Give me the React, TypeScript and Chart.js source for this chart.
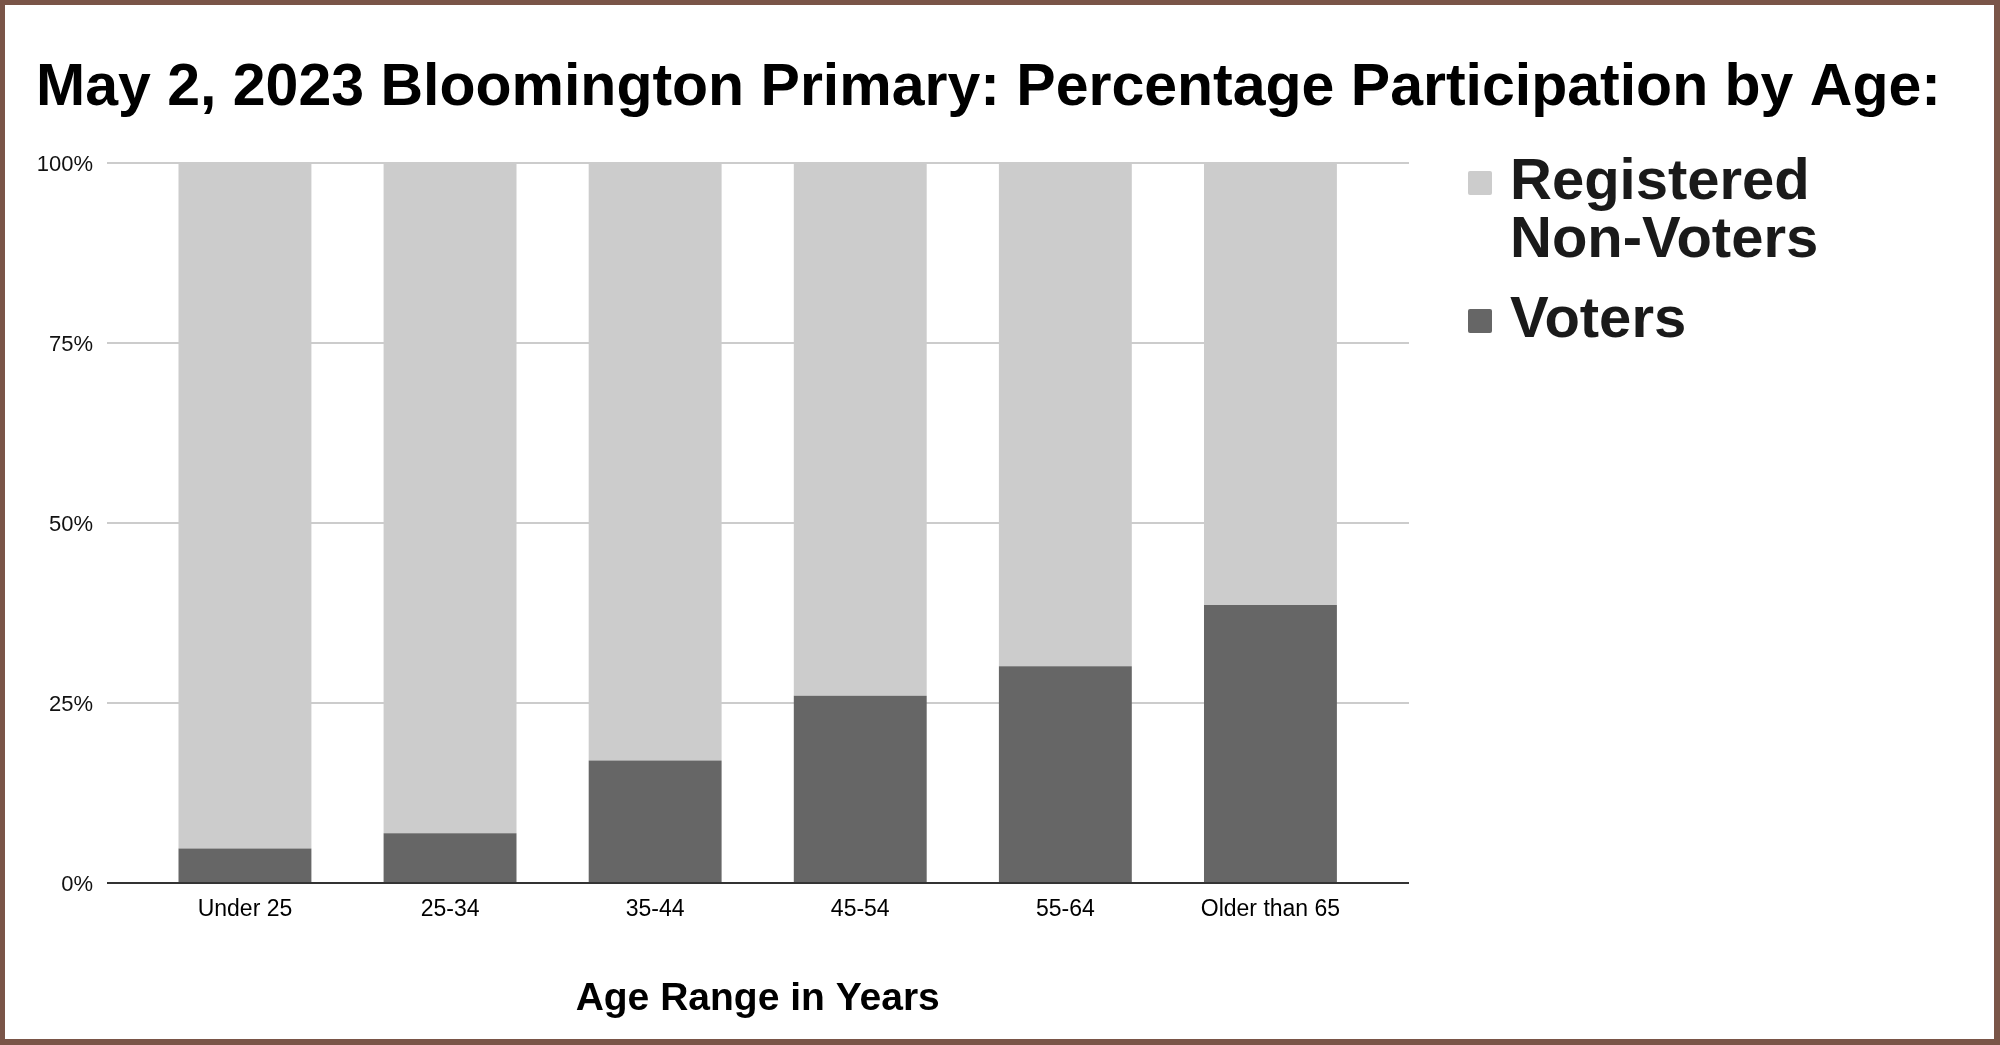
import React, { useEffect, useRef } from 'react';
import { Chart, registerables } from 'chart.js';

Chart.register(...registerables);

const categories = ['Under 25', '25-34', '35-44', '45-54', '55-64', 'Older than 65'];
const voters = [4.8, 6.9, 17.0, 26.0, 30.1, 38.6];
const nonVoters = [95.2, 93.1, 83.0, 74.0, 69.9, 61.4];
const yTickValues = [0, 25, 50, 75, 100];
const voterLabel = 'Voters';
const nonVoterLabel = ['Registered', 'Non-Voters'];
const titleText = 'May 2, 2023 Bloomington Primary: Percentage Participation by Age:';
const xTitleText = 'Age Range in Years';

const LIGHT = '#cccccc';
const DARK = '#666666';
const FONT = '"Liberation Sans", Arial, Helvetica, sans-serif';

function makeSwatch(color: string) {
  const c = document.createElement('canvas');
  c.width = 24;
  c.height = 24;
  const g = c.getContext('2d')!;
  g.fillStyle = color;
  g.beginPath();
  if ((g as any).roundRect) (g as any).roundRect(0, 0, 24, 24, 2);
  else g.rect(0, 0, 24, 24);
  g.fill();
  return c;
}

const extGrid = {
  id: 'extGrid',
  beforeDatasetsDraw(chart: any) {
    const { ctx, chartArea } = chart;
    const y = chart.scales.y;
    const left = chartArea.left - 35.4;
    const right = chartArea.right + 36;
    ctx.save();
    ctx.strokeStyle = '#cccccc';
    ctx.lineWidth = 2;
    y.ticks.forEach((t: any) => {
      if (t.value === 0) return;
      const py = Math.round(y.getPixelForValue(t.value));
      ctx.beginPath();
      ctx.moveTo(left, py);
      ctx.lineTo(right, py);
      ctx.stroke();
    });
    ctx.restore();
  },
  afterDatasetsDraw(chart: any) {
    const { ctx, chartArea } = chart;
    const y = chart.scales.y;
    const left = chartArea.left - 35.4;
    const right = chartArea.right + 36;
    const py = Math.round(y.getPixelForValue(0));
    ctx.save();
    ctx.strokeStyle = '#333333';
    ctx.lineWidth = 2;
    ctx.beginPath();
    ctx.moveTo(left, py);
    ctx.lineTo(right, py);
    ctx.stroke();
    ctx.restore();
  },
  afterDraw(chart: any) {
    const { ctx, width, height } = chart;
    ctx.save();
    ctx.fillStyle = '#7a5548';
    ctx.fillRect(0, 0, width, 5);
    ctx.fillRect(0, 0, 5, height);
    ctx.fillRect(width - 6, 0, 6, height);
    ctx.fillRect(0, height - 6, width, 6);
    ctx.restore();
  },
};

const LEGEND_LEFT = 1457;

export default function App() {
  const ref = useRef<HTMLCanvasElement>(null);

  useEffect(() => {
    document.body.style.margin = '0';
    const swatches: Record<number, HTMLCanvasElement> = {
      0: makeSwatch(DARK),
      1: makeSwatch(LIGHT),
    };
    const chart = new Chart(ref.current!, {
      type: 'bar',
      data: {
        labels: categories,
        datasets: [
          {
            label: voterLabel,
            data: voters,
            backgroundColor: DARK,
            borderWidth: 0,
            categoryPercentage: 1,
            barPercentage: 0.648,
          },
          {
            label: nonVoterLabel.join(' '),
            data: nonVoters,
            backgroundColor: LIGHT,
            borderWidth: 0,
            categoryPercentage: 1,
            barPercentage: 0.648,
          },
        ],
      },
      options: {
        responsive: false,
        animation: false,
        events: [],
        layout: { padding: { left: 36, right: 0, top: 0, bottom: 0 } },
        font: { family: FONT },
        scales: {
          x: {
            stacked: true,
            grid: { display: false, drawTicks: false, tickLength: 0 },
            border: { display: false },
            ticks: {
              color: '#000000',
              font: { family: FONT, size: 23 },
              padding: 12.5,
              maxRotation: 0,
              autoSkip: false,
            },
            title: {
              display: true,
              text: xTitleText,
              color: '#000000',
              font: { family: FONT, size: 39, weight: 'bold', lineHeight: 1 },
              padding: { top: 0, bottom: 26.5 },
            },
            afterFit: (s: any) => {
              s.height = 162;
            },
          },
          y: {
            stacked: true,
            min: 0,
            max: 100,
            grid: { display: false, drawTicks: false, tickLength: 0 },
            border: { display: false },
            afterBuildTicks: (s: any) => {
              s.ticks = yTickValues.map((v) => ({ value: v }));
            },
            ticks: {
              color: '#111111',
              font: { family: FONT, size: 22 },
              padding: 49.4,
              labelOffset: 2,
              callback: (v: any) => v + '%',
            },
            afterFit: (s: any) => {
              s.width = 106.4;
            },
          },
          gapR: {
            type: 'linear',
            position: 'right',
            weight: 0,
            grid: { display: false, drawTicks: false, tickLength: 0 },
            border: { display: false },
            ticks: { display: false },
            afterFit: (s: any) => {
              s.width = 84;
            },
          },
          outerR: {
            type: 'linear',
            position: 'right',
            weight: 2000,
            grid: { display: false, drawTicks: false, tickLength: 0 },
            border: { display: false },
            ticks: { display: false },
            afterFit: (s: any) => {
              const lw = s.chart.legend ? s.chart.legend.width : 0;
              s.width = Math.max(0, s.chart.width - LEGEND_LEFT - lw);
            },
          },
        } as any,
        plugins: {
          title: {
            display: true,
            text: titleText,
            align: 'start',
            color: '#000000',
            font: { family: FONT, size: 59, weight: 'bold', lineHeight: 1 },
            padding: { top: 59, bottom: 45 },
          },
          legend: {
            display: true,
            position: 'right',
            align: 'start',
            fullSize: true,
            reverse: true,
            maxWidth: 520,
            title: {
              display: true,
              text: '',
              font: { size: 10, lineHeight: 1 },
              padding: { top: 122, bottom: 0 },
            },
            labels: {
              color: '#1a1a1a',
              font: { family: FONT, size: 58, weight: 'bold', lineHeight: 1 },
              padding: 22,
              usePointStyle: true,
              pointStyleWidth: 2,
              boxHeight: 24,
              generateLabels: (c: any) => {
                const items = (Chart.defaults.plugins.legend.labels as any).generateLabels(c);
                return items.map((it: any) => ({
                  ...it,
                  text: it.datasetIndex === 1 ? nonVoterLabel : voterLabel,
                  pointStyle: swatches[it.datasetIndex],
                }));
              },
            },
          },
          tooltip: { enabled: false },
        },
      } as any,
      plugins: [extGrid],
    });
    return () => chart.destroy();
  }, []);

  return (
    <div style={{ width: 2000, height: 1045, position: 'relative' }}>
      <canvas ref={ref} width={2000} height={1045} style={{ display: 'block' }} />
    </div>
  );
}
